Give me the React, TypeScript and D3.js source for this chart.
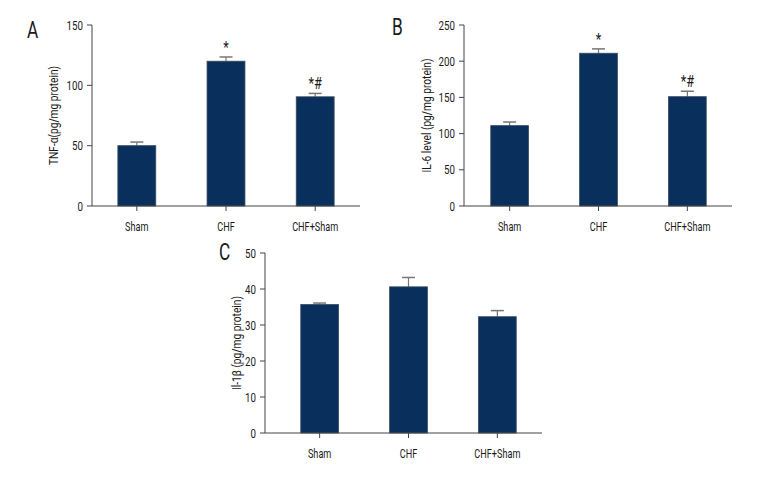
import * as React from 'react';
import * as d3 from 'd3';

const categories = ['Sham', 'CHF', 'CHF+Sham'];

const tnfValues = [50, 120, 90.5];
const tnfErrors = [3, 3.5, 2.8];
const tnfMarks = ['', '*', '*#'];
const tnfTicks = [0, 50, 100, 150];

const il6Values = [111, 211, 151];
const il6Errors = [5, 6, 7.5];
const il6Marks = ['', '*', '*#'];
const il6Ticks = [0, 50, 100, 150, 200, 250];

const il1Values = [35.7, 40.6, 32.3];
const il1Errors = [0.4, 2.6, 1.7];
const il1Marks = ['', '', ''];
const il1Ticks = [0, 10, 20, 30, 40, 50];

// condensed look: Roboto squeezed horizontally
const font = "Roboto, 'Liberation Sans', sans-serif";
const barFill = '#09305c';
const axisColor = '#444';
const textColor = '#1a1a1a';

interface TProps {
    x: number,
    y: number,
    size: number,
    sx: number,
    anchor?: string,
    rotate?: number,
    children: React.ReactNode,
}

// text with horizontal squeeze (applied along the text direction)
function T(p: TProps) {
    const rot = p.rotate ? ` rotate(${p.rotate})` : '';
    return <text
        transform={`translate(${p.x},${p.y})${rot} scale(${p.sx},1)`}
        textAnchor={p.anchor || 'start'}
        fontFamily={font}
        fontSize={p.size}
        fill={textColor}>{p.children}</text>;
}

interface PanelProps {
    letter: string,
    yLabel: string,
    values: number[],
    errors: number[],
    marks: string[],
    ticks: number[],
    left: number,   // x of y axis
    barsStart: number,
    right: number,  // end of x axis
    top: number,    // y of max tick
    bottom: number, // y of zero
    letterX: number,
    letterY: number,
    labelX: number,
}

function Panel(p: PanelProps) {
    const yMax = p.ticks[p.ticks.length - 1];
    const yScale = d3.scaleLinear().domain([0, yMax]).range([p.bottom, p.top]);
    const xScale = d3.scaleBand<string>()
        .domain(categories)
        .range([p.barsStart, p.right])
        .paddingInner(0.575)
        .paddingOuter(0.29);

    const bw = xScale.bandwidth();
    const capHalf = 6.5;

    return <g>
        <T x={p.letterX} y={p.letterY} size={24} sx={0.72}>{p.letter}</T>
        <T x={p.labelX} y={(p.top + p.bottom) / 2} size={12} sx={0.85} anchor="middle" rotate={-90}>{p.yLabel}</T>

        {categories.map((c, i) => {
            const x0 = xScale(c) || 0;
            const cx = x0 + bw / 2;
            const yTop = yScale(p.values[i]);
            const yErr = yScale(p.values[i] + p.errors[i]);
            return <g key={c}>
                <line x1={cx} x2={cx} y1={yTop} y2={yErr} stroke="#777" strokeWidth={1.2} />
                <line x1={cx - capHalf} x2={cx + capHalf} y1={yErr} y2={yErr} stroke="#777" strokeWidth={1.5} />
                <rect x={x0} y={yTop} width={bw} height={p.bottom - yTop}
                    fill={barFill} stroke="#3a4a5e" strokeWidth={0.8} />
                {p.marks[i] && <T x={cx} y={yErr - 4} size={16} sx={0.8} anchor="middle">{p.marks[i]}</T>}
                <line x1={cx} x2={cx} y1={p.bottom} y2={p.bottom + 5} stroke={axisColor} />
                <T x={cx} y={p.bottom + 25} size={12.5} sx={0.73} anchor="middle">{c}</T>
            </g>;
        })}

        <line x1={p.left} x2={p.right} y1={p.bottom} y2={p.bottom} stroke={axisColor} />
        <line x1={p.left} x2={p.left} y1={p.top} y2={p.bottom} stroke={axisColor} />
        {p.ticks.map(t => <g key={t}>
            <line x1={p.left - 5} x2={p.left} y1={yScale(t)} y2={yScale(t)} stroke={axisColor} />
            <T x={p.left - 9} y={yScale(t) + 4.5} size={12.5} sx={0.78} anchor="end">{t}</T>
        </g>)}
    </g>;
}

export default function App() {
    return <svg width={780} height={480} style={{ display: 'block', position: 'absolute', left: 0, top: 0, background: '#fff' }}>
        <rect x={0} y={0} width={780} height={480} fill="#fff" />
        <Panel letter="A" yLabel="TNF-α(pg/mg protein)"
            values={tnfValues} errors={tnfErrors} marks={tnfMarks} ticks={tnfTicks}
            left={92} barsStart={92} right={360} top={25} bottom={206}
            letterX={27} letterY={38} labelX={58} />
        <Panel letter="B" yLabel="IL-6 level (pg/mg protein)"
            values={il6Values} errors={il6Errors} marks={il6Marks} ticks={il6Ticks}
            left={464} barsStart={465} right={732} top={25} bottom={206}
            letterX={392} letterY={35} labelX={431} />
        <Panel letter="C" yLabel="Il-1β (pg/mg protein)"
            values={il1Values} errors={il1Errors} marks={il1Marks} ticks={il1Ticks}
            left={265} barsStart={275} right={542} top={253} bottom={433}
            letterX={219} letterY={260} labelX={241} />
    </svg>;
}
